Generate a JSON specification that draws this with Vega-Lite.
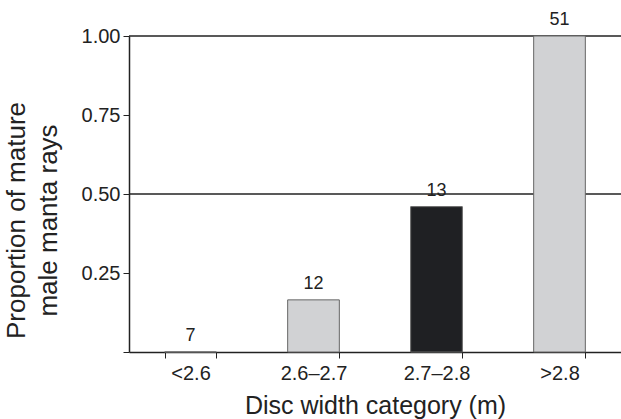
{
  "$schema": "https://vega.github.io/schema/vega-lite/v6.json",
  "autosize": "none",
  "width": 492,
  "height": 316,
  "padding": {"left": 129, "top": 36, "right": 0, "bottom": 67},
  "background": "white",
  "config": {"view": {"stroke": null}, "font": "Liberation Sans"},
  "datasets": {
    "bars": [
      {"category": "<2.6", "proportion": 0, "n": 7},
      {"category": "2.6–2.7", "proportion": 0.165, "n": 12},
      {"category": "2.7–2.8", "proportion": 0.46, "n": 13},
      {"category": ">2.8", "proportion": 1.0, "n": 51}
    ],
    "lines": [{"y": 0.5}, {"y": 1.0}]
  },
  "layer": [
    {
      "data": {"name": "lines"},
      "mark": {"type": "rule", "color": "#222222", "strokeWidth": 1.5},
      "encoding": {
        "y": {"field": "y", "type": "quantitative", "scale": {"domain": [0, 1]}}
      }
    },
    {
      "data": {"name": "bars"},
      "mark": {"type": "bar", "stroke": "#666666", "strokeWidth": 1},
      "encoding": {
        "x": {
          "field": "category", "type": "nominal", "sort": null,
          "scale": {"paddingInner": 0.58, "paddingOuter": 0.29},
          "axis": {
            "title": "Disc width category (m)",
            "labelAngle": 0, "labelFontSize": 20, "labelColor": "#222", "labelPadding": 5,
            "titleFontSize": 25, "titleFontWeight": "normal", "titleColor": "#222", "titlePadding": 10,
            "domainColor": "#222", "domainWidth": 1.5, "tickColor": "#222", "tickSize": 6, "tickWidth": 1,
            "tickBand": "extent"
          }
        },
        "y": {
          "field": "proportion", "type": "quantitative",
          "scale": {"domain": [0, 1]},
          "axis": {
            "title": ["Proportion of mature", "male manta rays"],
            "values": [0, 0.25, 0.5, 0.75, 1.0],
            "format": ".2f",
            "labelExpr": "datum.value == 0 ? '' : datum.label",
            "labelFontSize": 20, "labelColor": "#222", "labelPadding": 3,
            "titleFontSize": 26, "titleFontWeight": "normal", "titleColor": "#222", "titlePadding": 20,
            "titleLineHeight": 32, "titleY": 184,
            "domainColor": "#222", "domainWidth": 1.5, "tickColor": "#222", "tickSize": 6, "tickWidth": 1,
            "grid": false
          }
        },
        "color": {
          "field": "category", "type": "nominal", "legend": null,
          "scale": {"domain": ["<2.6", "2.6–2.7", "2.7–2.8", ">2.8"], "range": ["#d1d2d4", "#d1d2d4", "#1f2023", "#d1d2d4"]}
        }
      }
    },
    {
      "data": {"name": "bars"},
      "mark": {"type": "text", "baseline": "bottom", "dy": -7, "fontSize": 18, "color": "#222"},
      "encoding": {
        "x": {"field": "category", "type": "nominal", "sort": null},
        "y": {"field": "proportion", "type": "quantitative"},
        "text": {"field": "n", "type": "quantitative"}
      }
    }
  ]
}
